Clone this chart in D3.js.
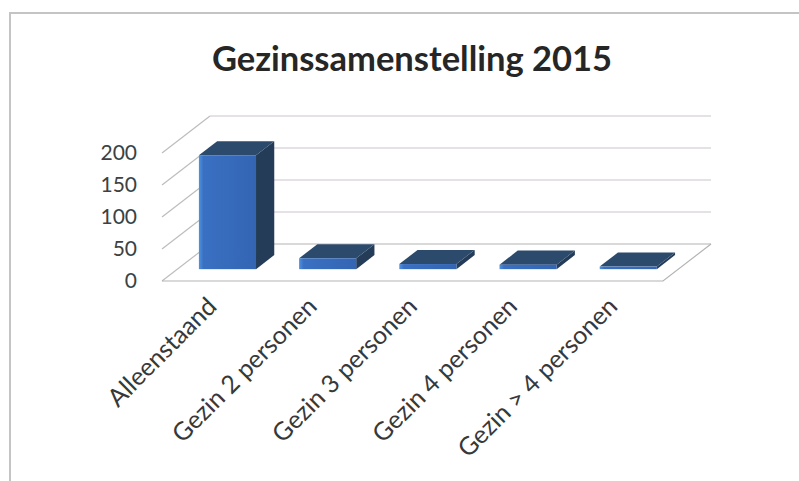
<!DOCTYPE html>
<html>
<head>
<meta charset="utf-8">
<script src="https://cdn.jsdelivr.net/npm/d3@7"></script>
<style>
  body { margin: 0; background: #fff; }
  .graph-title { font-family: Lato, "Open Sans", sans-serif; font-weight: bold; fill: #262626; }
  .y-axis-label { font-family: Lato, "Open Sans", sans-serif; fill: #404040; }
  .x-axis-label { font-family: Lato, "Open Sans", sans-serif; fill: #383838; }
</style>
</head>
<body>
<svg id="gezinChart"></svg>
<script>
// Data
const categories = ["Alleenstaand", "Gezin 2 personen", "Gezin 3 personen", "Gezin 4 personen", "Gezin > 4 personen"];
const values = [178, 17, 8, 7, 4];
const yTicks = [0, 50, 100, 150, 200];
const graphTitle = "Gezinssamenstelling 2015";

// Set up the dimensions for the SVG container
const svgWidth = 799;
const svgHeight = 481;

// floor front-left corner and the depth vector of the 3d box
const floor = { left: 162, right: 663, y: 281 };
const depth = { dx: 48, dy: -37 };
const barFront = 0.32, barBack = 0.70; // where the bars sit in the depth

const svg = d3.select("#gezinChart")
  .attr("width", svgWidth)
  .attr("height", svgHeight);

// outer frame of the chart (cut off at right and bottom)
svg.append("path")
  .attr("d", "M10," + svgHeight + " L10,13 L" + svgWidth + ",13")
  .attr("fill", "none")
  .attr("stroke", "#c4c4c4")
  .attr("stroke-width", 2);

svg.append("text")
  .attr("class", "graph-title")
  .attr("x", 412)
  .attr("y", 71)
  .attr("text-anchor", "middle")
  .attr("font-size", 34.5)
  .text(graphTitle);

// Scales
const xScale = d3.scaleBand()
  .domain(categories)
  .range([floor.left, floor.right])
  .paddingInner(0.43)
  .paddingOuter(0.215);

const yScale = d3.scaleLinear()
  .domain([0, 200])
  .range([0, 128]);

const backX0 = floor.left + depth.dx;
const backX1 = floor.right + depth.dx;
const backY = floor.y + depth.dy;

const grid = svg.append("g").attr("class", "grid");

// back wall gridlines
grid.selectAll(".back-line")
  .data(yTicks)
  .enter().append("line")
  .attr("x1", backX0)
  .attr("x2", backX1)
  .attr("y1", d => backY - yScale(d))
  .attr("y2", d => backY - yScale(d))
  .attr("stroke", d => d === 0 ? "#b4b4b4" : "#cdc3cf")
  .attr("stroke-width", 1.2);

// side wall diagonals
grid.selectAll(".side-line")
  .data(yTicks)
  .enter().append("line")
  .attr("x1", floor.left)
  .attr("x2", backX0)
  .attr("y1", d => floor.y - yScale(d))
  .attr("y2", d => backY - yScale(d))
  .attr("stroke", "#bdbdbd")
  .attr("stroke-width", 1.2);

// floor front and right edge
grid.append("path")
  .attr("d", "M" + floor.left + "," + floor.y + " L" + floor.right + "," + floor.y + " L" + backX1 + "," + backY)
  .attr("fill", "none")
  .attr("stroke", "#b4b4b4")
  .attr("stroke-width", 1.2);

// y axis labels
svg.selectAll(".y-axis-label")
  .data(yTicks)
  .enter().append("text")
  .attr("class", "y-axis-label")
  .attr("x", 137)
  .attr("y", d => floor.y - yScale(d))
  .attr("dy", "0.35em")
  .attr("text-anchor", "end")
  .attr("font-size", 21)
  .text(d => d);

// gradient for the front faces
const defs = svg.append("defs");
const grad = defs.append("linearGradient").attr("id", "frontGrad");
grad.append("stop").attr("offset", "0%").attr("stop-color", "#4f92e0");
grad.append("stop").attr("offset", "8%").attr("stop-color", "#3a70c2");
grad.append("stop").attr("offset", "100%").attr("stop-color", "#3365b3");

const bw = xScale.bandwidth();
const ddx = (barBack - barFront) * depth.dx;
const ddy = (barBack - barFront) * depth.dy;

const bars = svg.selectAll(".bar")
  .data(values)
  .enter().append("g")
  .attr("class", "bar");

const bx = (d, i) => xScale(categories[i]) + barFront * depth.dx;
const by = d => floor.y + barFront * depth.dy;

// right side
bars.append("path")
  .attr("d", (d, i) => {
    const x1 = bx(d, i) + bw, yb = by(d), yt = yb - yScale(d);
    return "M" + x1 + "," + yt + " L" + (x1 + ddx) + "," + (yt + ddy) +
      " L" + (x1 + ddx) + "," + (yb + ddy) + " L" + x1 + "," + yb + "Z";
  })
  .attr("fill", "#243c57");

// top
bars.append("path")
  .attr("d", (d, i) => {
    const x0 = bx(d, i), x1 = x0 + bw, yt = by(d) - yScale(d);
    return "M" + x0 + "," + yt + " L" + x1 + "," + yt + " L" + (x1 + ddx) + "," + (yt + ddy) +
      " L" + (x0 + ddx) + "," + (yt + ddy) + "Z";
  })
  .attr("fill", "#2c4a6c");

// front
bars.append("rect")
  .attr("x", (d, i) => bx(d, i))
  .attr("y", d => by(d) - yScale(d))
  .attr("width", bw)
  .attr("height", d => yScale(d))
  .attr("fill", "url(#frontGrad)");

// x axis labels, rotated, ending under the category
svg.selectAll(".x-axis-label")
  .data(categories)
  .enter().append("text")
  .attr("class", "x-axis-label")
  .attr("text-anchor", "end")
  .attr("font-size", 25)
  .attr("transform", d => "translate(" + (xScale(d) + xScale.bandwidth() / 2 + 6) + ",308) rotate(-45)")
  .text(d => d);
</script>
</body>
</html>
